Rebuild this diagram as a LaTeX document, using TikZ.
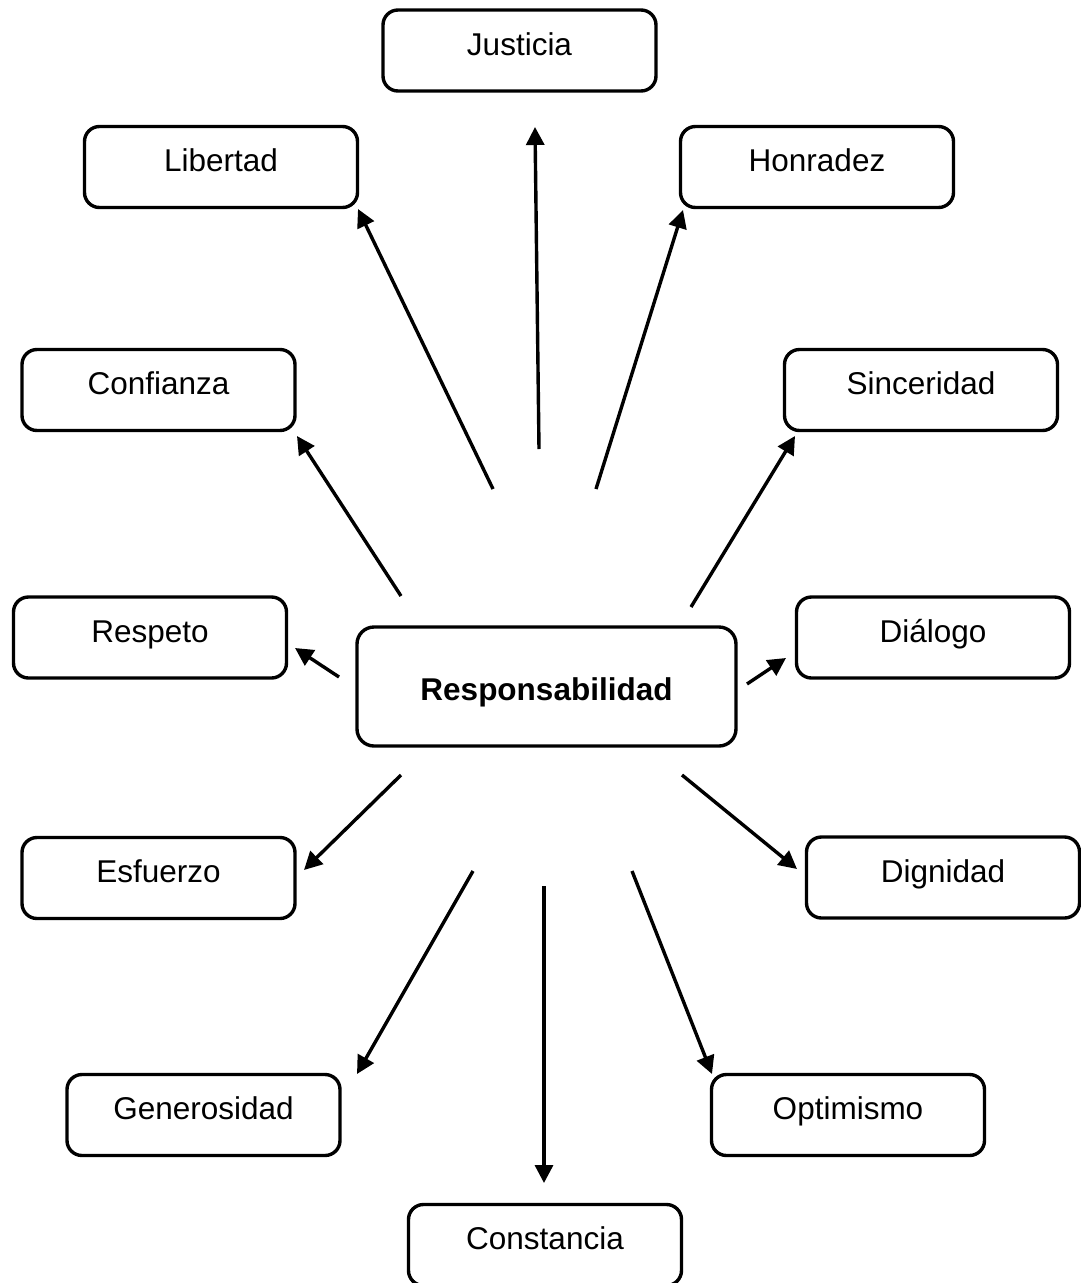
\documentclass[tikz,border=0pt]{standalone}
\usepackage{fontspec}
\setmainfont{Liberation Sans}
\usetikzlibrary{arrows.meta}
\begin{document}
\begin{tikzpicture}[x=1pt,y=-1pt,
  valbox/.style={draw, line width=3.4pt, rounded corners=15pt, minimum width=273pt, minimum height=81pt,
    inner sep=0pt, text height=25pt, text depth=16pt, font=\fontsize{31.5}{36}\selectfont},
  mainbox/.style={draw, line width=3.4pt, rounded corners=17pt, minimum width=379pt, minimum height=119pt,
    inner sep=0pt, text height=28pt, text depth=0pt, font=\fontsize{31.5}{36}\selectfont\bfseries},
  conn/.style={line width=3.4pt, -{Triangle[length=18pt,width=18pt]}}]
\useasboundingbox (0,0) rectangle (1081,1283);
\begin{scope}
\clip (0,0) rectangle (1081,1283);
\node[mainbox] (resp) at (546.5,686.5) {Responsabilidad};
\node[valbox] (justicia) at (519.5,50.5) {Justicia};
\node[valbox] (libertad) at (221,167) {Libertad};
\node[valbox] (honradez) at (817,167) {Honradez};
\node[valbox] (confianza) at (158.5,390) {Confianza};
\node[valbox] (sinceridad) at (921,390) {Sinceridad};
\node[valbox] (respeto) at (150,637.5) {Respeto};
\node[valbox] (dialogo) at (933,637.5) {Diálogo};
\node[valbox] (esfuerzo) at (158.5,878) {Esfuerzo};
\node[valbox] (dignidad) at (943,877.5) {Dignidad};
\node[valbox] (generosidad) at (203.5,1115) {Generosidad};
\node[valbox] (optimismo) at (848,1115) {Optimismo};
\node[valbox] (constancia) at (545,1245) {Constancia};
\end{scope}
% connector end points
\coordinate (sJus) at (539,449);   \coordinate (tJus) at (535,127);
\coordinate (sLib) at (493,489);   \coordinate (tLib) at (358,209);
\coordinate (sHon) at (596,489);   \coordinate (tHon) at (683,210);
\coordinate (sCon) at (401,596);   \coordinate (tCon) at (297,436);
\coordinate (sSin) at (691,607);   \coordinate (tSin) at (795,436);
\coordinate (sRes) at (339,677);   \coordinate (tRes) at (295,648);
\coordinate (sDia) at (747,684);   \coordinate (tDia) at (786,658);
\coordinate (sEsf) at (401,775);   \coordinate (tEsf) at (304,870);
\coordinate (sDig) at (682,775);   \coordinate (tDig) at (797,869);
\coordinate (sGen) at (473,871);   \coordinate (tGen) at (357,1074);
\coordinate (sCst) at (544,886);   \coordinate (tCst) at (544,1183);
\coordinate (sOpt) at (632,871);   \coordinate (tOpt) at (712,1074);
\draw[conn] (sJus) -- (tJus);
\draw[conn] (sLib) -- (tLib);
\draw[conn] (sHon) -- (tHon);
\draw[conn] (sCon) -- (tCon);
\draw[conn] (sSin) -- (tSin);
\draw[conn] (sRes) -- (tRes);
\draw[conn] (sDia) -- (tDia);
\draw[conn] (sEsf) -- (tEsf);
\draw[conn] (sDig) -- (tDig);
\draw[conn] (sGen) -- (tGen);
\draw[conn] (sCst) -- (tCst);
\draw[conn] (sOpt) -- (tOpt);
\end{tikzpicture}
\end{document}
